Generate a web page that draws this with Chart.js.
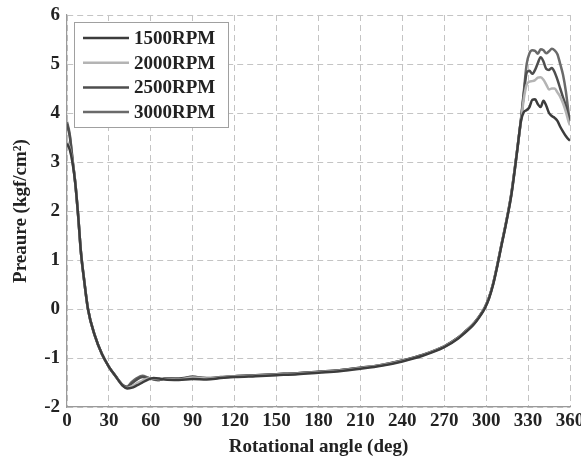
<!DOCTYPE html>
<html>
<head>
<meta charset="utf-8">
<style>
html,body{margin:0;padding:0;background:#fff;}
canvas{display:block;}
</style>
<script src="https://cdn.jsdelivr.net/npm/chart.js@4/dist/chart.umd.min.js"></script>
</head>
<body>
<canvas id="c" width="581" height="457"></canvas>
<script>
const angles = [0,2,4,6,8,10,12,15,20,25,30,35,40,43,46,50,54,58,62,66,70,80,90,100,110,120,135,150,165,180,195,210,225,240,255,270,280,285,290,293,296,299,302,305,308,311,314,318,322,325,327,329,331,333,335,337,339,341,343,345,347,349,351,353,355,357,359,360];

const rpm1500 = [3.38,3.25,2.98,2.55,1.9,1.15,0.65,0.0,-0.55,-0.92,-1.18,-1.38,-1.57,-1.62,-1.61,-1.56,-1.5,-1.44,-1.41,-1.42,-1.44,-1.45,-1.43,-1.44,-1.41,-1.39,-1.37,-1.35,-1.33,-1.3,-1.27,-1.22,-1.16,-1.07,-0.95,-0.78,-0.6,-0.48,-0.35,-0.25,-0.13,0.01,0.21,0.5,0.88,1.3,1.71,2.32,3.18,3.85,4.02,4.06,4.12,4.27,4.28,4.18,4.12,4.25,4.15,4.0,3.94,3.9,3.84,3.72,3.62,3.53,3.46,3.44];
const rpm2000 = [3.42,3.28,3.0,2.56,1.9,1.15,0.65,0.0,-0.55,-0.92,-1.18,-1.38,-1.57,-1.61,-1.58,-1.52,-1.46,-1.42,-1.42,-1.43,-1.43,-1.44,-1.4,-1.42,-1.4,-1.38,-1.36,-1.34,-1.32,-1.29,-1.26,-1.21,-1.15,-1.06,-0.94,-0.77,-0.59,-0.47,-0.34,-0.24,-0.12,0.02,0.22,0.51,0.89,1.31,1.72,2.33,3.19,3.85,4.3,4.58,4.64,4.65,4.67,4.72,4.73,4.68,4.58,4.48,4.5,4.5,4.42,4.33,4.2,4.03,3.82,3.75];
const rpm2500 = [3.78,3.52,3.03,2.55,1.9,1.15,0.65,0.0,-0.55,-0.92,-1.18,-1.38,-1.56,-1.6,-1.53,-1.44,-1.39,-1.41,-1.43,-1.45,-1.42,-1.42,-1.39,-1.41,-1.39,-1.37,-1.35,-1.33,-1.31,-1.28,-1.25,-1.2,-1.14,-1.05,-0.93,-0.76,-0.58,-0.46,-0.33,-0.23,-0.11,0.03,0.23,0.52,0.9,1.32,1.73,2.35,3.2,3.88,4.4,4.82,4.86,4.8,4.88,5.02,5.14,5.05,4.9,4.88,4.92,4.83,4.68,4.5,4.32,4.15,3.92,3.85];
const rpm3000 = [3.82,3.56,3.05,2.55,1.9,1.15,0.65,0.0,-0.55,-0.92,-1.18,-1.38,-1.55,-1.58,-1.5,-1.41,-1.36,-1.4,-1.44,-1.45,-1.42,-1.43,-1.38,-1.42,-1.4,-1.37,-1.35,-1.33,-1.31,-1.28,-1.25,-1.2,-1.14,-1.05,-0.93,-0.76,-0.58,-0.46,-0.33,-0.23,-0.11,0.03,0.23,0.52,0.9,1.32,1.73,2.35,3.2,3.9,4.45,5.0,5.22,5.28,5.27,5.21,5.3,5.28,5.22,5.26,5.31,5.28,5.2,5.0,4.78,4.45,4.0,3.8];

const seriesLabels = ['1500RPM','2000RPM','2500RPM','3000RPM'];
const seriesValues = [rpm1500, rpm2000, rpm2500, rpm3000];
const seriesColors = ['#3c3c3c','#b4b4b4','#4e4e4e','#6a6a6a'];
const xTicks = [0,30,60,90,120,150,180,210,240,270,300,330,360];
const yTicks = [-2,-1,0,1,2,3,4,5,6];

const FONT = '"Liberation Serif","Times New Roman",serif';

const datasets = seriesLabels.map((lab, i) => ({
  label: lab,
  data: angles.map((a, j) => ({x: a, y: seriesValues[i][j]})),
  borderColor: seriesColors[i],
  borderWidth: 2.5,
  pointRadius: 0,
  fill: false,
  cubicInterpolationMode: 'monotone'
}));

const legendBox = {
  id: 'legendBox',
  afterDraw(chart) {
    const ctx = chart.ctx;
    const x0 = 74, y0 = 22, w = 154, h = 105;
    ctx.save();
    ctx.fillStyle = '#fff';
    ctx.fillRect(x0, y0, w, h);
    ctx.strokeStyle = '#a0a0a0';
    ctx.lineWidth = 1;
    ctx.strokeRect(x0 + 0.5, y0 + 0.5, w, h);
    ctx.font = 'bold 19px ' + FONT;
    ctx.textBaseline = 'middle';
    ctx.textAlign = 'left';
    chart.data.datasets.forEach((ds, i) => {
      const yy = 38 + i * 24.7;
      ctx.strokeStyle = ds.borderColor;
      ctx.lineWidth = 2.5;
      ctx.beginPath();
      ctx.moveTo(83, yy);
      ctx.lineTo(129, yy);
      ctx.stroke();
      ctx.fillStyle = '#222';
      ctx.fillText(ds.label, 134, yy + 1);
    });
    ctx.restore();
  }
};

new Chart(document.getElementById('c'), {
  type: 'line',
  data: { datasets },
  plugins: [legendBox],
  options: {
    responsive: false,
    animation: false,
    devicePixelRatio: 1,
    layout: { padding: { top: 15, right: 11, left: 0, bottom: 0 } },
    plugins: { legend: { display: false }, tooltip: { enabled: false } },
    scales: {
      x: {
        type: 'linear',
        min: 0, max: 360,
        afterBuildTicks(s) { s.ticks = xTicks.map(v => ({value: v})); },
        afterFit(s) { s.height = 50; s.paddingLeft = 0; s.paddingRight = 0; },
        ticks: {
          color: '#222',
          font: { family: FONT, size: 19, weight: 'bold' },
          padding: 3,
          maxRotation: 0,
          autoSkip: false
        },
        grid: { color: '#c4c4c4', lineWidth: 1, drawTicks: false },
        border: { display: true, color: '#9a9a9a', width: 1.2, dash: [6, 4] },
        title: {
          display: true,
          text: 'Rotational angle (deg)',
          color: '#222',
          font: { family: FONT, size: 19, weight: 'bold', lineHeight: 1 },
          padding: { top: 0, bottom: 0 }
        }
      },
      y: {
        type: 'linear',
        min: -2, max: 6,
        afterBuildTicks(s) { s.ticks = yTicks.map(v => ({value: v})); },
        afterFit(s) { s.width = 67; s.paddingTop = 0; s.paddingBottom = 0; },
        ticks: {
          color: '#222',
          font: { family: FONT, size: 19, weight: 'bold' },
          padding: 7,
          autoSkip: false
        },
        grid: { color: '#c4c4c4', lineWidth: 1, drawTicks: false },
        border: { display: true, color: '#9a9a9a', width: 1.2, dash: [6, 4] },
        title: {
          display: true,
          text: 'Preaure (kgf/cm²)',
          color: '#222',
          font: { family: FONT, size: 19, weight: 'bold', lineHeight: 1 },
          padding: { top: 12, bottom: 0 }
        }
      }
    }
  }
});
</script>
</body>
</html>
